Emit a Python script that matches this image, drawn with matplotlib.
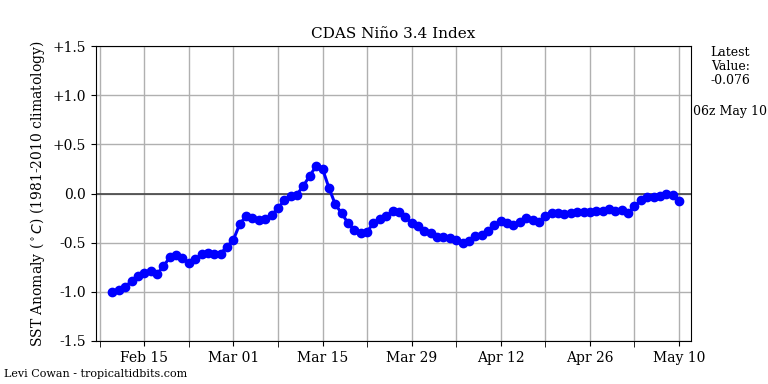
import matplotlib
matplotlib.use("Agg")
import matplotlib.pyplot as plt
import matplotlib.dates as mdates
import numpy as np
import pandas as pd

plt.rcParams['font.family'] = ['DejaVu Serif']

start_date = "2025-02-10"
values = [-1.00, -0.98, -0.95, -0.89, -0.84, -0.81, -0.79, -0.82, -0.74, -0.65,
          -0.63, -0.66, -0.71, -0.67, -0.62, -0.60, -0.61, -0.61, -0.54, -0.47,
          -0.31, -0.23, -0.25, -0.27, -0.26, -0.22, -0.15, -0.07, -0.02, -0.01,
          0.08, 0.18, 0.28, 0.25, 0.06, -0.11, -0.20, -0.30, -0.37, -0.40,
          -0.39, -0.30, -0.26, -0.23, -0.18, -0.19, -0.24, -0.30, -0.33, -0.38,
          -0.40, -0.44, -0.44, -0.45, -0.47, -0.50, -0.48, -0.43, -0.42, -0.38,
          -0.32, -0.28, -0.30, -0.32, -0.29, -0.25, -0.27, -0.29, -0.23, -0.20,
          -0.20, -0.21, -0.20, -0.19, -0.19, -0.19, -0.18, -0.18, -0.16, -0.18,
          -0.17, -0.20, -0.13, -0.07, -0.04, -0.04, -0.02, 0.00, -0.01, -0.076]
dates = pd.date_range(start_date, periods=len(values), freq="D")
yticks = [-1.5, -1.0, -0.5, 0.0, 0.5, 1.0, 1.5]
yticklabels = ["-1.5", "-1.0", "-0.5", "0.0", "+0.5", "+1.0", "+1.5"]
major_dates = pd.date_range("2025-02-15", "2025-05-10", freq="14D")
minor_dates = pd.date_range("2025-02-08", "2025-05-10", freq="14D")

fig = plt.figure(figsize=(7.68, 3.84), dpi=100)
ax = fig.add_axes([0.125, 0.112, 0.775, 0.768])

ax.plot(dates, values, color='#0000ff', marker='o', markersize=6, linewidth=2.2, zorder=3)
ax.axhline(0, color='#444444', linewidth=1.2, zorder=2)

ax.set_ylim(-1.5, 1.5)
ax.set_yticks(yticks)
ax.set_yticklabels(yticklabels)
x0 = pd.Timestamp("2025-02-10") - pd.Timedelta(hours=62)
x1 = pd.Timestamp("2025-05-10") + pd.Timedelta(hours=46)
ax.set_xlim(x0, x1)
ax.set_xticks(major_dates)
ax.set_xticks(minor_dates, minor=True)
ax.xaxis.set_major_formatter(mdates.DateFormatter("%b %d"))
ax.grid(True, which='both', axis='x', color='#b0b0b0', linewidth=1)
ax.grid(True, which='major', axis='y', color='#b0b0b0', linewidth=1)
ax.tick_params(axis='both', labelsize=10)
ax.tick_params(axis='x', which='minor', length=4)

ax.set_title("CDAS Niño 3.4 Index", fontsize=11)
ax.set_ylabel(r"SST Anomaly ($^\circ C$) (1981-2010 climatology)", fontsize=10)

fig.text(0.951, 0.88, "Latest\nValue:\n-0.076", ha='center', va='top', fontsize=9, linespacing=1.1)
fig.text(0.951, 0.71, "06z May 10", ha='center', va='center', fontsize=9)
fig.text(0.005, 0.025, "Levi Cowan - tropicaltidbits.com", ha='left', va='center', fontsize=8)

fig.savefig("out.png", dpi=100)
